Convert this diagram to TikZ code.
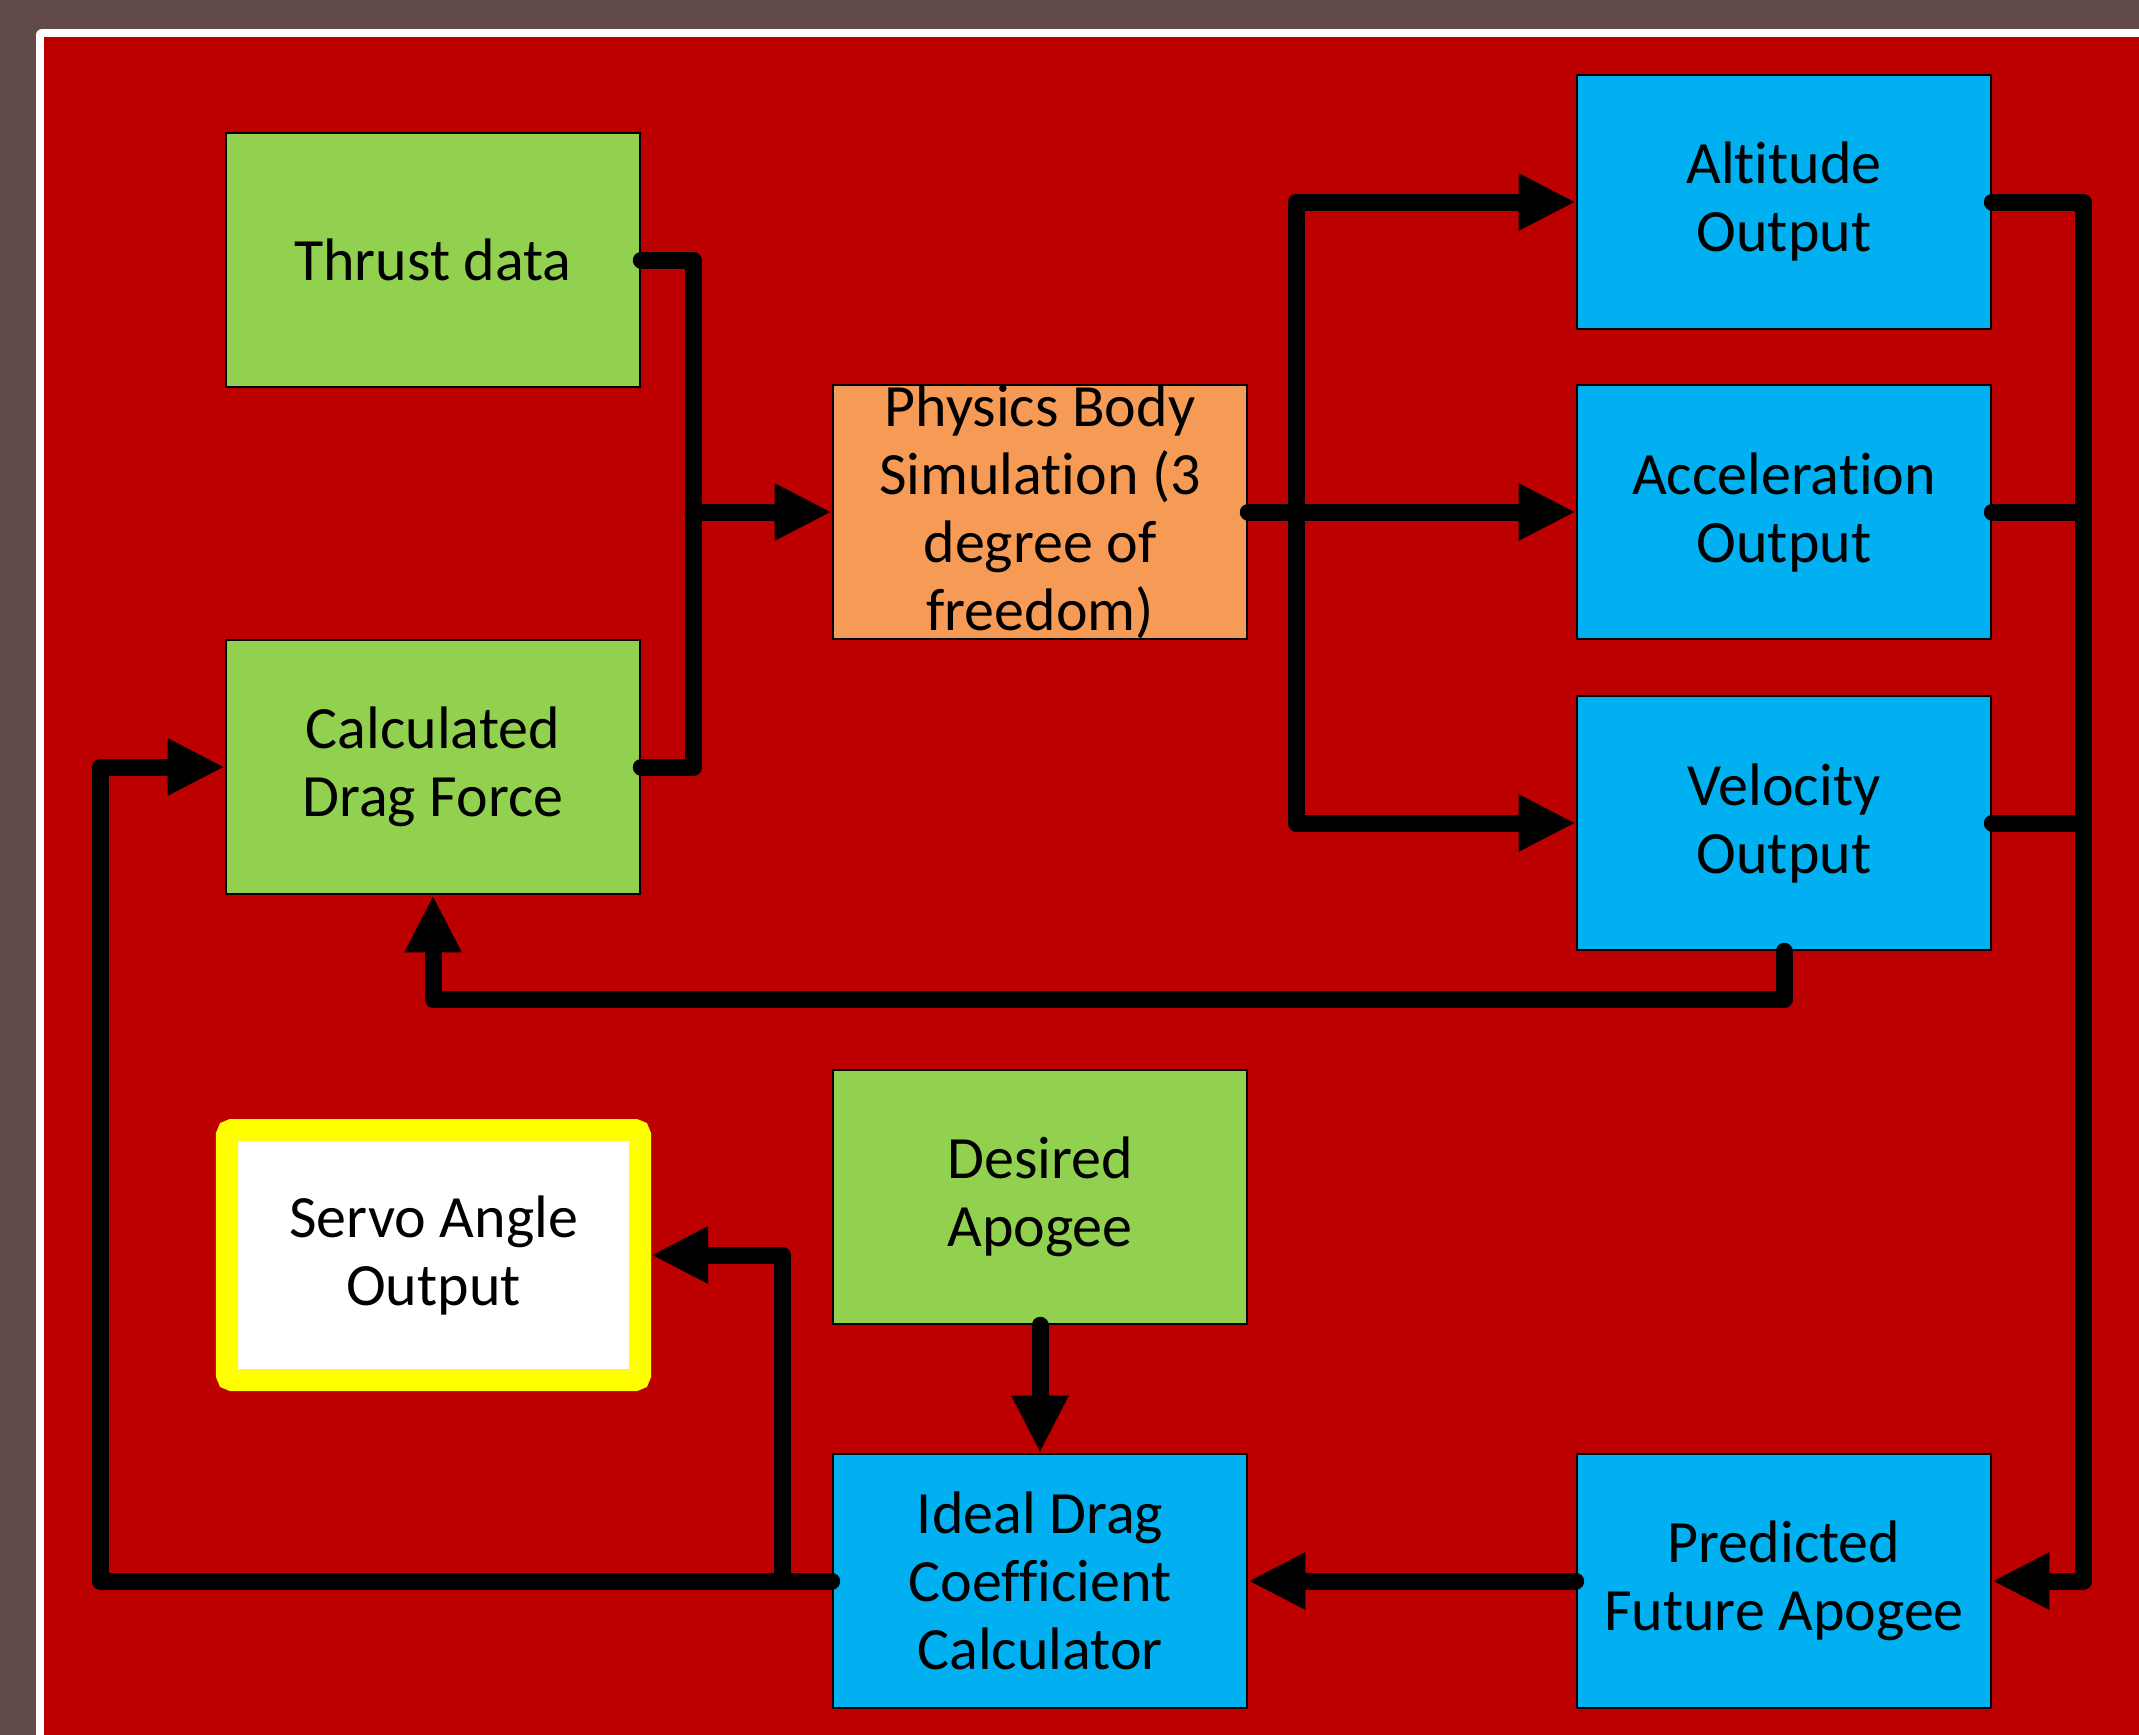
\documentclass[tikz,border=0pt]{standalone}
\usepackage{fontspec}
\setmainfont{Carlito}[Ligatures={NoCommon,NoContextual,NoRequired}]
\usetikzlibrary{arrows.meta}
\definecolor{bgout}{HTML}{624A4B}
\definecolor{redbg}{HTML}{BC0000}
\definecolor{boxgreen}{HTML}{92D050}
\definecolor{boxorange}{HTML}{F59B56}
\definecolor{boxblue}{HTML}{00B0F0}
\definecolor{servoyellow}{HTML}{FFFF00}
\tikzset{
  box/.style={rectangle, draw=black, line width=2.6bp, minimum width=414bp, minimum height=254bp,
    inner sep=0pt, align=center, font=\fontsize{60bp}{68bp}\selectfont, text=black},
  greenbox/.style={box, fill=boxgreen},
  bluebox/.style={box, fill=boxblue},
  orangebox/.style={box, fill=boxorange},
  servobox/.style={box, draw=servoyellow, fill=white, line width=22bp, minimum width=413bp,
    minimum height=250bp, rounded corners=5bp},
  conn/.style={draw=black, line width=17bp, line cap=round, line join=round},
  arr/.style={conn, -{Triangle[length=57bp,width=53bp]}},
}
\begin{document}
\begin{tikzpicture}[x=1bp,y=-1bp]
\useasboundingbox (0,0) rectangle (2139,1735);
\fill[bgout] (0,0) rectangle (2139,1735);
\fill[white, rounded corners=6bp] (36,29) rectangle (2170,1770);
\fill[redbg] (44,37) rectangle (2170,1770);

\node[greenbox] (thrust) at (433,260) {Thrust data};
\node[greenbox] (drag) at (433,767) {Calculated\\Drag Force};
\node[orangebox] (phys) at (1040,512) {Physics Body\\Simulation (3\\degree of\\freedom)};
\node[bluebox] (alt) at (1784,202) {Altitude\\Output};
\node[bluebox] (acc) at (1784,512) {Acceleration\\Output};
\node[bluebox] (vel) at (1784,823) {Velocity\\Output};
\node[servobox] (servo) at (433.5,1255) {Servo Angle\\Output};
\node[greenbox] (desired) at (1040,1197) {Desired\\Apogee};
\node[bluebox] (ideal) at (1040,1581) {Ideal Drag\\Coefficient\\Calculator};
\node[bluebox] (pred) at (1784,1581) {Predicted\\Future Apogee};

\coordinate (j1) at (693,512);
\coordinate (j2) at (1296,512);
\coordinate (rb) at (2083,1581);
\coordinate (lb) at (100,1581);
\coordinate (sj) at (782,1581);

% inputs to physics
\draw[conn] (thrust.east) -| (j1) |- (drag.east);
\draw[arr] (j1) -- (phys.west);
% physics to outputs
\draw[arr] (phys.east) -- (acc.west);
\draw[arr] (j2) |- (alt.west);
\draw[arr] (j2) |- (vel.west);
% right bus to predicted apogee
\draw[arr] (alt.east) -| (rb) -- (pred.east);
\draw[conn] (acc.east) -- (acc.east -| rb);
\draw[conn] (vel.east) -- (vel.east -| rb);
% velocity feedback to drag
\draw[arr] (vel.south) -- ++(0,48) -| (drag.south);
% lower chain
\draw[arr] (pred.west) -- (ideal.east);
\draw[arr] (desired.south) -- (ideal.north);
\draw[arr] (ideal.west) -- (lb) |- (drag.west);
\draw[arr] (sj) |- (servo.east);
\end{tikzpicture}
\end{document}
